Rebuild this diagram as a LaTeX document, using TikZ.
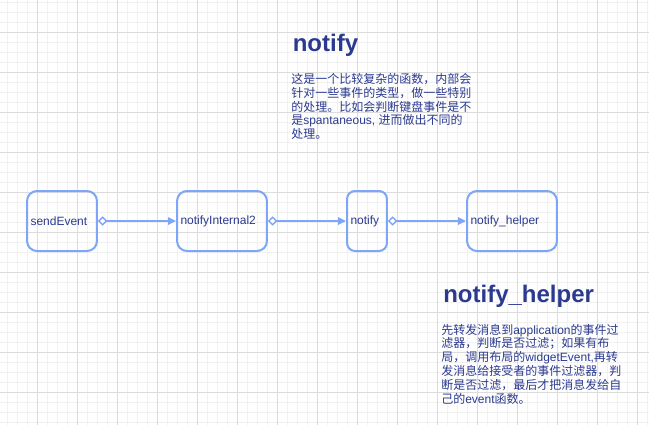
\documentclass[tikz,border=0pt]{standalone}
\usepackage{fontspec}
\setmainfont{Liberation Sans}
\newfontfamily\cjk{Noto Sans CJK SC}
\usetikzlibrary{arrows.meta}
\definecolor{edge}{HTML}{7EA6F8}
\definecolor{ink}{HTML}{2B3A8F}
\definecolor{gridmajor}{HTML}{DCDCDC}
\definecolor{gridminor}{HTML}{F1F1F1}
\tikzset{
  blk/.style={draw=edge, line width=1.5pt, rounded corners=7.5pt, minimum height=45pt,
    inner xsep=2.6pt, inner ysep=0pt, align=left, text=ink,
    font=\fontsize{9}{10.8}\selectfont},
  conn/.style={draw=edge, line width=1.5pt,
    {Diamond[open, length=7pt, width=7pt, line width=1pt, fill=white]}-{Triangle[length=6pt, width=5.5pt]}},
  ttl/.style={text=ink, inner sep=0pt, anchor=base west, font=\bfseries\fontsize{18}{21.6}\selectfont},
  body/.style={text=ink, inner sep=0pt, anchor=base west, align=left,
    font=\fontsize{9}{10.35}\selectfont},
}
\begin{document}
\begin{tikzpicture}[x=0.75pt, y=-0.75pt]
\useasboundingbox (0,0) rectangle (649,425);
\fill[white] (0,0) rectangle (649,425);
% grid
\foreach \x in {7,17,...,647} \draw[gridminor, line width=0.75pt] (\x,0) -- (\x,425);
\foreach \y in {2,12,...,422} \draw[gridminor, line width=0.75pt] (0,\y) -- (649,\y);
\foreach \x in {37,77,...,637} \draw[gridmajor, line width=0.75pt] (\x,0) -- (\x,425);
\foreach \y in {32,72,...,392} \draw[gridmajor, line width=0.75pt] (0,\y) -- (649,\y);

% nodes
\node[blk, text width=47.25pt] (send) at (62,221) {sendEvent};
\node[blk, text width=62.25pt] (ni2) at (222,221) {notifyInternal2};
\node[blk, text width=24.75pt, rounded corners=6pt] (nt) at (367,221) {notify};
\node[blk, text width=62.25pt] (nh) at (512,221) {notify\_helper};

% connectors
\draw[conn] (send.east) -- (ni2.west);
\draw[conn] (ni2.east) -- (nt.west);
\draw[conn] (nt.east) -- (nh.west);

% titles
\node[ttl] (t1) at (292.5,51) {notify};
\node[ttl] (t2) at (443,302) {notify\_helper};

% descriptions (anchored at the baseline of the last line)
\node[body] (d1) at (291,138.6) {%
{\cjk 这是一个比较复杂的函数，内部会}\\
{\cjk 针对一些事件的类型，做一些特别}\\
{\cjk 的处理。比如会判断键盘事件是不}\\
{\cjk 是}spantaneous, {\cjk 进而做出不同的}\\
{\cjk 处理。}};

\node[body] (d2) at (441,403) {%
{\cjk 先转发消息到}application{\cjk 的事件过}\\
{\cjk 滤器，判断是否过滤；如果有布}\\
{\cjk 局，调用布局的}widgetEvent,{\cjk 再转}\\
{\cjk 发消息给接受者的事件过滤器，判}\\
{\cjk 断是否过滤，最后才把消息发给自}\\
{\cjk 己的}event{\cjk 函数。}};
\end{tikzpicture}
\end{document}
